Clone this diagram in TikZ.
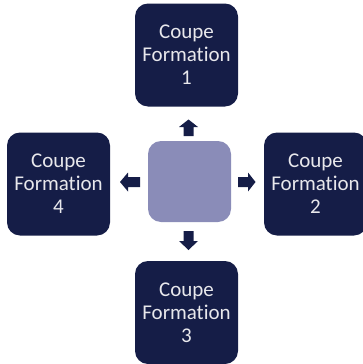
\documentclass[tikz,border=0pt]{standalone}
\usepackage{fontspec}
\setmainfont[Ligatures=NoCommon]{Carlito}
\definecolor{navy}{HTML}{151D47}
\definecolor{lav}{HTML}{8A8CB8}
\definecolor{txt}{HTML}{E8E8EC}
\begin{document}
\begin{tikzpicture}[x=1pt,y=-1pt,
  box/.style={fill=navy, rounded corners=13pt, minimum width=103pt, minimum height=103pt,
    text=txt, align=center, font=\fontsize{21}{23}\selectfont, inner sep=0pt},
  hub/.style={fill=lav, rounded corners=13pt, minimum width=83pt, minimum height=81pt, inner sep=0pt},
  barrow/.style={fill=navy}]
\useasboundingbox (0,0) rectangle (363,364);
\node[box] (b1) at (186.5,55) {Coupe\\Formation\\1};
\node[box] (b2) at (315.5,184) {Coupe\\Formation\\2};
\node[box] (b3) at (186.5,312.5) {Coupe\\Formation\\3};
\node[box] (b4) at (58.5,184) {Coupe\\Formation\\4};
\node[hub] (c) at (189.5,181.5) {};
% up arrow
\fill[barrow] (183.5,136) -- (183.5,127) -- (179,127) -- (188.5,119.5) -- (198,127) -- (193.5,127) -- (193.5,136) -- cycle;
% down arrow
\fill[barrow] (183.5,231) -- (183.5,241) -- (179,241) -- (188.5,250) -- (198,241) -- (193.5,241) -- (193.5,231) -- cycle;
% left arrow
\fill[barrow] (140,177) -- (128,177) -- (128,172.5) -- (120,182) -- (128,191.5) -- (128,187) -- (140,187) -- cycle;
% right arrow
\fill[barrow] (238,177) -- (248,177) -- (248,172.5) -- (255.5,182) -- (248,191.5) -- (248,187) -- (238,187) -- cycle;
\end{tikzpicture}
\end{document}
